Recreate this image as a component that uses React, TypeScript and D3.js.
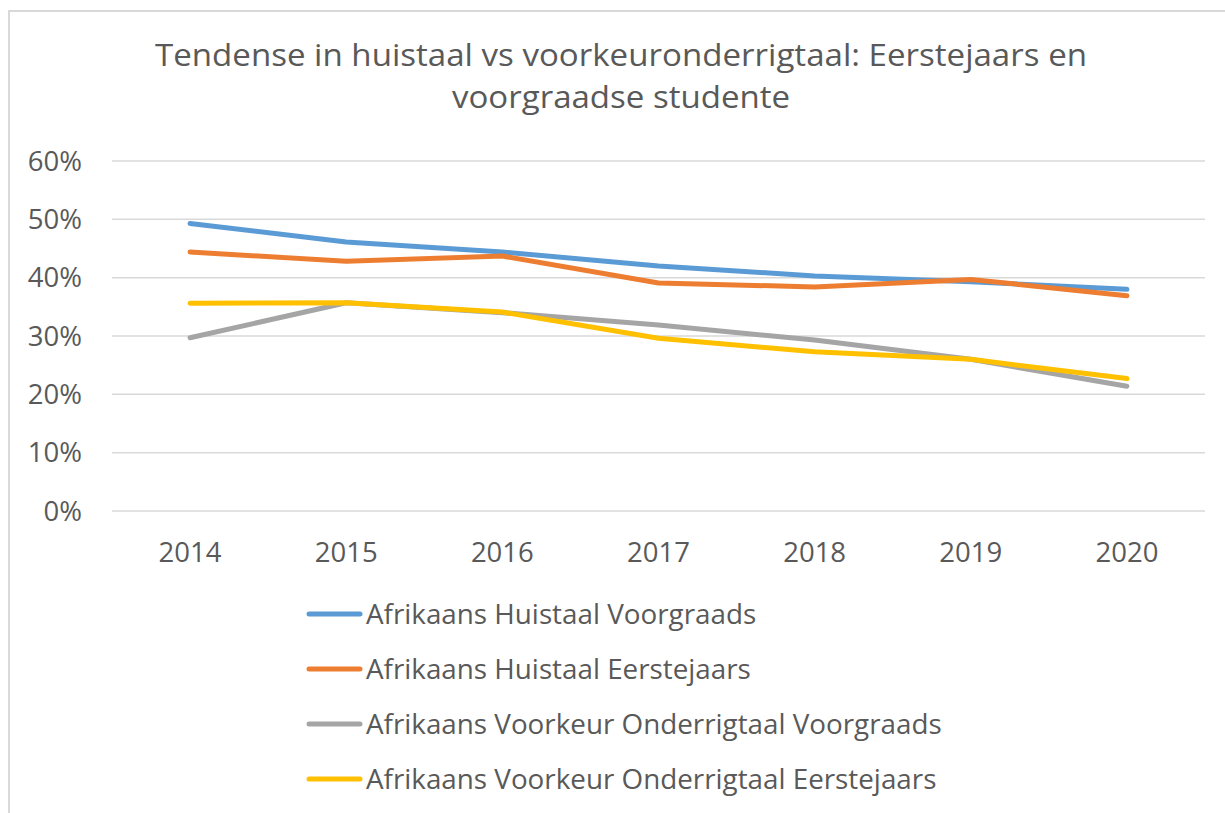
import { useRef, useEffect } from "react";
import { select, scaleLinear, scalePoint, line } from "d3";

const years = ["2014", "2015", "2016", "2017", "2018", "2019", "2020"];
const huistaalVoorgraads = [49.3, 46.1, 44.4, 42.0, 40.3, 39.3, 38.0];
const huistaalEerstejaars = [44.4, 42.8, 43.7, 39.1, 38.4, 39.7, 36.9];
const voorkeurVoorgraads = [29.7, 35.7, 34.0, 31.9, 29.3, 26.0, 21.4];
const voorkeurEerstejaars = [35.6, 35.7, 34.1, 29.6, 27.3, 26.0, 22.7];
const yTicks = [0, 10, 20, 30, 40, 50, 60];
const seriesNames = [
  "Afrikaans Huistaal Voorgraads",
  "Afrikaans Huistaal Eerstejaars",
  "Afrikaans Voorkeur Onderrigtaal Voorgraads",
  "Afrikaans Voorkeur Onderrigtaal Eerstejaars",
];
const colors = ["#5b9bd5", "#ed7d31", "#a5a5a5", "#ffc000"];

const font = "'Open Sans', 'Noto Sans', sans-serif";
const textColor = "#595959";

function App() {
  const svgRef = useRef<SVGSVGElement>(null);

  useEffect(() => {
    const svg = select(svgRef.current);
    const series = [
      huistaalVoorgraads,
      huistaalEerstejaars,
      voorkeurVoorgraads,
      voorkeurEerstejaars,
    ];

    const xScale = scalePoint<string>()
      .domain(years)
      .range([112, 1205])
      .padding(0.5);

    const yScale = scaleLinear().domain([0, 60]).range([511, 161]);

    // gridlines
    svg
      .select("#grid")
      .selectAll("line")
      .data(yTicks)
      .join("line")
      .attr("x1", 112)
      .attr("x2", 1205)
      .attr("y1", (d) => yScale(d))
      .attr("y2", (d) => yScale(d))
      .attr("stroke", "#d9d9d9")
      .attr("stroke-width", 1.5);

    // y labels
    svg
      .select("#y-axis")
      .selectAll("text")
      .data(yTicks)
      .join("text")
      .attr("x", 82)
      .attr("y", (d) => yScale(d))
      .attr("dy", "0.35em")
      .attr("text-anchor", "end")
      .attr("font-family", font)
      .attr("font-size", 27.5)
      .attr("fill", textColor)
      .text((d) => d + "%");

    // x labels
    svg
      .select("#x-axis")
      .selectAll("text")
      .data(years)
      .join("text")
      .attr("x", (d) => xScale(d)!)
      .attr("y", 561.5)
      .attr("text-anchor", "middle")
      .attr("font-family", font)
      .attr("font-size", 27.5)
      .attr("fill", textColor)
      .text((d) => d);

    const myLine = line<number>()
      .x((_, i) => xScale(years[i])!)
      .y((v) => yScale(v));

    svg
      .select("#lines")
      .selectAll("path")
      .data(series)
      .join("path")
      .attr("d", (d) => myLine(d))
      .attr("fill", "none")
      .attr("stroke", (_, i) => colors[i])
      .attr("stroke-width", 5)
      .attr("stroke-linecap", "round")
      .attr("stroke-linejoin", "round");

    // legend
    const legend = svg
      .select("#legend")
      .selectAll("g")
      .data(seriesNames)
      .join("g")
      .attr("transform", (_, i) => `translate(0, ${614 + i * 55})`);
    legend
      .selectAll("line")
      .data((d) => [d])
      .join("line")
      .attr("x1", 309)
      .attr("x2", 360)
      .attr("stroke", (d) => colors[seriesNames.indexOf(d)])
      .attr("stroke-width", 5)
      .attr("stroke-linecap", "round");
    legend
      .selectAll("text")
      .data((d) => [d])
      .join("text")
      .attr("x", 366)
      .attr("y", 10)
      .attr("font-family", font)
      .attr("font-size", 27.8)
      .attr("fill", textColor)
      .text((d) => d);
  }, []);

  return (
    <svg
      ref={svgRef}
      width={1225}
      height={813}
      style={{ position: "absolute", left: 0, top: 0, background: "#fff" }}
    >
      <rect
        x={9}
        y={11}
        width={1240}
        height={820}
        fill="#fff"
        stroke="#d9d9d9"
        strokeWidth={2}
      />
      <text
        x={621}
        y={66}
        textAnchor="middle"
        fontFamily={font}
        fontSize={31.5}
        fill={textColor}
        textLength={932}
        lengthAdjust="spacingAndGlyphs"
      >
        Tendense in huistaal vs voorkeuronderrigtaal: Eerstejaars en
      </text>
      <text
        x={621}
        y={108}
        textAnchor="middle"
        fontFamily={font}
        fontSize={31.5}
        fill={textColor}
        textLength={338}
        lengthAdjust="spacingAndGlyphs"
      >
        voorgraadse studente
      </text>
      <g id="grid" />
      <g id="y-axis" />
      <g id="x-axis" />
      <g id="lines" />
      <g id="legend" />
    </svg>
  );
}

export default App;
